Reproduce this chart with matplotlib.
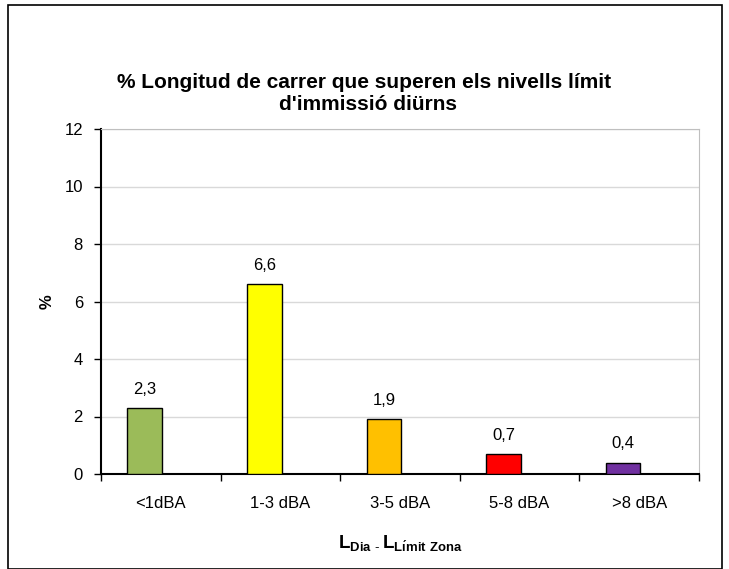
import numpy as np
import matplotlib.pyplot as plt
from matplotlib.patches import Rectangle

plt.rcParams['font.family'] = ['Liberation Sans', 'DejaVu Sans']
plt.rcParams['mathtext.fontset'] = 'custom'
plt.rcParams['mathtext.rm'] = 'Liberation Sans'
plt.rcParams['mathtext.bf'] = 'Liberation Sans:bold'

categories = ['<1dBA', '1-3 dBA', '3-5 dBA', '5-8 dBA', '>8 dBA']
values = [2.3, 6.6, 1.9, 0.7, 0.4]
labels = ['2,3', '6,6', '1,9', '0,7', '0,4']
colors = ['#9BBB59', '#FFFF00', '#FFC000', '#FF0000', '#7030A0']

W, H = 729, 569
fig = plt.figure(figsize=(W / 100, H / 100), dpi=100)
ax = fig.add_axes([101 / W, 1 - 474 / H, 598 / W, 345 / H])

x = np.arange(len(categories))
# bars sit a little left of the category centre, like the original
xb = x - 0.135
ax.bar(xb, values, width=0.29, color=colors, edgecolor='black', linewidth=1, zorder=3)
for xi, v, lab in zip(xb, values, labels):
    ax.annotate(lab, (xi, v), xytext=(0, 8), textcoords='offset points',
                ha='center', va='bottom', fontsize=12)

ax.set_xlim(-0.5, len(categories) - 0.5)
ax.set_ylim(0, 12)
ax.set_yticks(np.arange(0, 13, 2))
ax.yaxis.grid(True, color='#D9D9D9', linewidth=1, zorder=0)
ax.set_xticks(np.arange(-0.5, len(categories), 1))
ax.set_xticklabels([])
ax.set_xticks(x, minor=True)
ax.set_xticklabels(categories, minor=True, fontsize=12)
ax.tick_params(axis='x', which='minor', length=0, pad=16)
ax.tick_params(axis='x', which='major', length=5, width=1, direction='out')
ax.tick_params(axis='y', length=5, width=1, labelsize=12, pad=8)

ax.spines['left'].set_linewidth(1.5)
ax.spines['bottom'].set_linewidth(1.5)
ax.spines['top'].set_color('#BFBFBF')
ax.spines['right'].set_color('#BFBFBF')

ax.set_ylabel('%', fontsize=12, fontweight='bold', labelpad=7)
ax.set_xlabel(r'$\mathbf{L_{Dia\ \text{-}}\,L_{L\acute{\imath}mit\ Zona}}$', fontsize=13.5, labelpad=16)

fig.text(364 / W, 1 - 83 / H, '% Longitud de carrer que superen els nivells límit',
         ha='center', va='center', fontsize=15, fontweight='bold')
fig.text(368 / W, 1 - 104 / H, "d'immissió diürns",
         ha='center', va='center', fontsize=15, fontweight='bold')

fig.patches.append(Rectangle((8 / W, 0), 714 / W, 1 - 5 / H, transform=fig.transFigure,
                             fill=False, edgecolor='black', linewidth=1.2))

fig.savefig('out.png', dpi=100)
